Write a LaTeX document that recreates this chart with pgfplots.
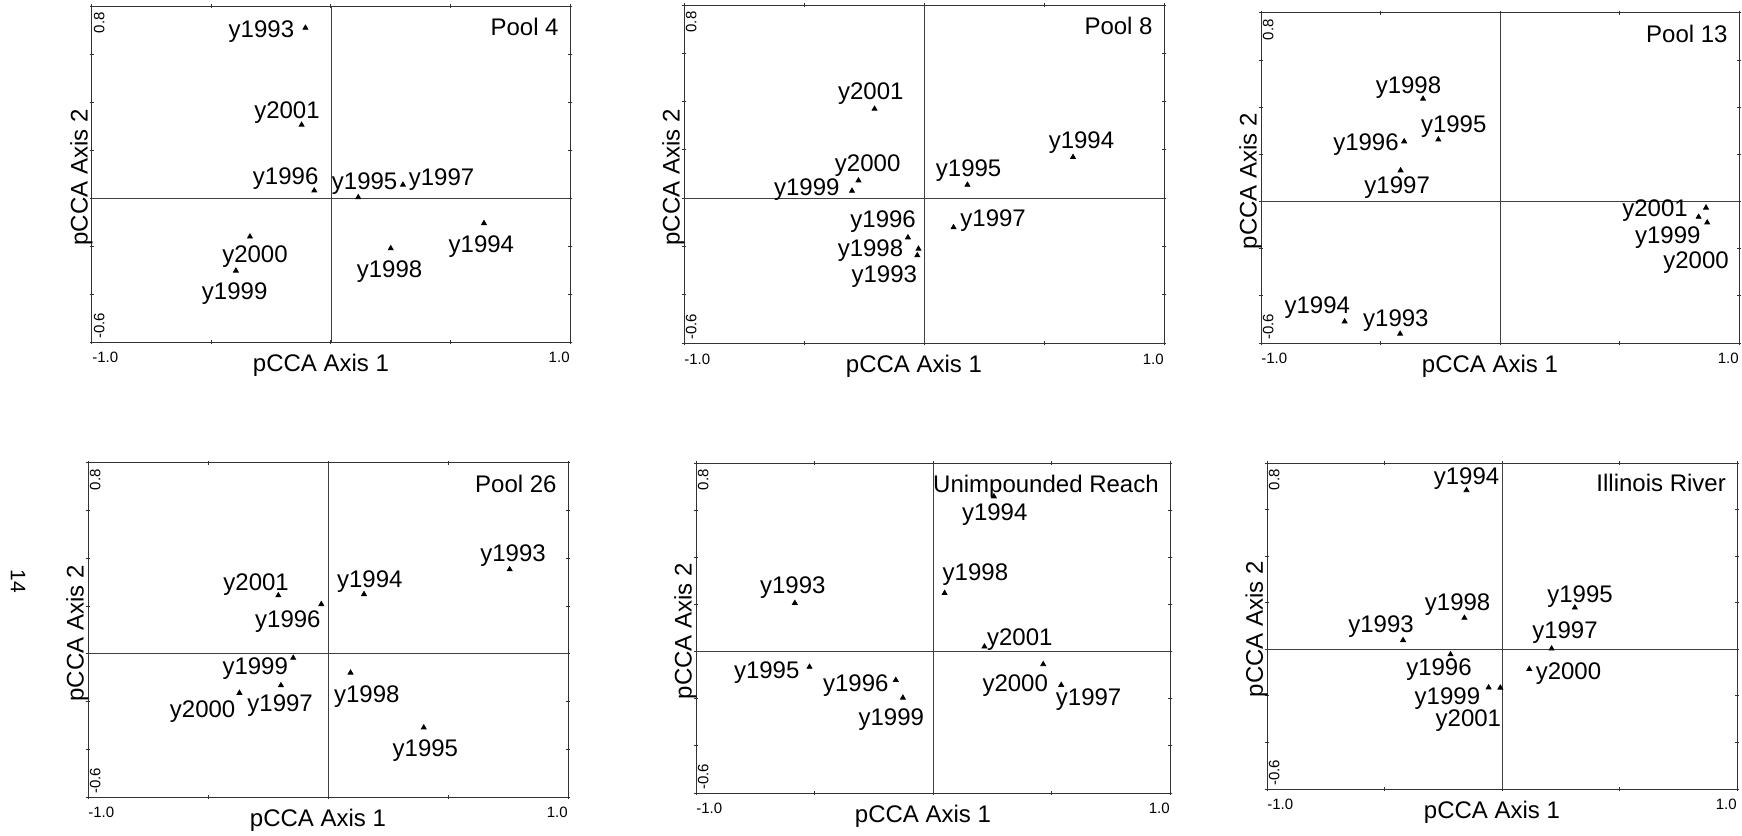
\documentclass[border=0pt]{standalone}
\usepackage{fontspec}
\setmainfont{Liberation Sans}
\usepackage{pgfplots}
\usepackage{pgfplotstable}
\pgfplotsset{compat=1.18}

\pgfplotstableread{
x y label dx dy
-0.107 0.709 y1993 -22 -1.7
-0.123 0.305 y2001 -7.3 6.2
-0.070 0.031 y1996 -14.3 5.8
0.114 0.003 y1995 3.2 7.0
0.301 0.055 y1997 19.3 2.5
0.640 -0.105 y1994 -1.3 -11.7
0.250 -0.210 y1998 -0.6 -11.7
-0.339 -0.161 y2000 2.5 -10
-0.398 -0.303 y1999 -0.6 -11.3
}\poolfour

\pgfplotstableread{
x y label dx dy
-0.206 0.370 y2001 -1.9 7.8
-0.273 0.073 y2000 4.6 7.5
-0.300 0.030 y1999 -22.6 0.5
0.181 0.055 y1995 0.6 7.2
0.621 0.170 y1994 4.2 7.0
0.123 -0.121 y1997 19.8 3.3
-0.067 -0.163 y1996 -12.4 8.0
-0.023 -0.210 y1998 -24 -0.8
-0.028 -0.237 y1993 -16.5 -10.5
}\pooleight

\pgfplotstableread{
x y label dx dy
-0.322 0.436 y1998 -7.3 5.8
-0.258 0.263 y1995 7.7 6.6
-0.401 0.255 y1996 -19.1 -1.7
-0.416 0.132 y1997 -1.7 -8.6
0.862 -0.026 y2001 -25.5 -1.7
0.831 -0.065 y1999 -15.4 -10.3
0.867 -0.089 y2000 -5.6 -20
-0.650 -0.509 y1994 -13.7 7.1
-0.418 -0.561 y1993 -2.1 6.6
}\poolthirteen

\pgfplotstableread{
x y label dx dy
0.757 0.354 y1993 1.7 7.0
-0.207 0.245 y2001 -11.1 5.5
0.150 0.250 y1994 2.9 6.2
-0.028 0.208 y1996 -16.7 -8.8
-0.145 -0.017 y1999 -19 -5.3
-0.196 -0.132 y1997 -0.4 -10
-0.369 -0.164 y2000 -18.4 -9.5
0.094 -0.079 y1998 8.1 -12.2
0.399 -0.309 y1995 0.8 -11.3
}\pooltwentysix

\pgfplotstableread{
x y label dx dy
0.257 0.658 y1994 0.4 -9
0.049 0.248 y1998 15.4 9.5
-0.583 0.206 y1993 -1 7.5
0.217 0.021 y2001 17.7 3.7
0.465 -0.054 y2000 -14 -10.9
0.541 -0.142 y1997 13.7 -7.2
-0.521 -0.065 y1995 -21.4 -2.8
-0.157 -0.121 y1996 -20 -3
-0.127 -0.196 y1999 -5.8 -10.9
}\unimpounded

\pgfplotstableread{
x y label dx dy
-0.151 0.683 y1994 0 5.8
-0.160 0.135 y1998 -3.4 6.8
-0.421 0.039 y1993 -11 6.7
0.310 0.179 y1995 2.6 5.3
0.211 0.003 y1997 6.7 8.0
0.116 -0.085 y2000 19.6 -2.2
-0.219 -0.022 y1996 -5.8 -7.8
-0.057 -0.164 y1999 -20.6 -5.5
-0.007 -0.165 y2001 -16 -16.5
}\illinois

\pgfplotsset{
  pcca/.style={
    scale only axis,
    xmin=-1, xmax=1, ymin=-0.6, ymax=0.8,
    xtick={-1,-0.5,0,0.5,1},
    ytick={-0.6,-0.4,-0.2,0,0.2,0.4,0.6,0.8},
    xticklabels={}, yticklabels={},
    tick align=center, major tick length=2.4pt,
    tick style={black!80, line width=0.5pt},
    axis line style={black!80, line width=0.5pt},
    xlabel={pCCA Axis 1}, ylabel={pCCA Axis 2},
    label style={font=\fontsize{12}{14}\selectfont, inner sep=0pt},
    xlabel style={at={(rel axis cs:0.5,0)}, anchor=north, yshift=-6pt, xshift=-5pt},
    ylabel style={at={(rel axis cs:-0.009,0.49)}, anchor=base},
    clip=false,
  },
  yrs/.style={only marks, mark=triangle*, mark size=1.4pt, black,
    nodes near coords, point meta=explicit symbolic,
    visualization depends on={\thisrow{dx}\as\labdx},
    visualization depends on={\thisrow{dy}\as\labdy},
    every node near coord/.append style={anchor=center, xshift=\labdx pt, yshift=\labdy pt,
      font=\fontsize{12}{14}\selectfont, inner sep=0pt, text=black}},
}

\newcommand{\panelextras}[1]{%
  \draw[black!75, line width=0.45pt] (axis cs:0,-0.6) -- (axis cs:0,0.8);
  \draw[black!75, line width=0.45pt] (axis cs:-1,0) -- (axis cs:1,0);
  \node[anchor=north west, inner sep=0pt, font=\fontsize{7.5}{9}\selectfont] at (rel axis cs:0,-0.03) {-1.0};
  \node[anchor=north east, inner sep=0pt, font=\fontsize{7.5}{9}\selectfont] at (rel axis cs:1,-0.03) {1.0};
  \node[rotate=90, anchor=north east, inner sep=0pt, font=\fontsize{7.5}{9}\selectfont] at (rel axis cs:0.003,0.982) {0.8};
  \node[rotate=90, anchor=north west, inner sep=0pt, font=\fontsize{7.5}{9}\selectfont] at (rel axis cs:0.003,0.009) {-0.6};
  \node[anchor=north east, inner sep=0pt, font=\fontsize{12}{14}\selectfont] at (rel axis cs:0.977,0.966) {#1};
}

\begin{document}
\begin{tikzpicture}
\path[use as bounding box] (0,0) rectangle (871pt,-418pt);

\node[rotate=-90, font=\fontsize{10.5}{12}\selectfont, inner sep=0pt] at (9pt,-290.5pt) {14};

\begin{axis}[pcca, at={(46pt,-171pt)}, anchor=south west, width=239pt, height=168pt]
\addplot[yrs] table[x=x,y=y,meta=label]{\poolfour};
\panelextras{Pool 4}
\end{axis}

\begin{axis}[pcca, at={(342pt,-171.5pt)}, anchor=south west, width=240pt, height=169pt]
\addplot[yrs] table[x=x,y=y,meta=label]{\pooleight};
\panelextras{Pool 8}
\end{axis}

\begin{axis}[pcca, at={(630.5pt,-171.5pt)}, anchor=south west, width=239pt, height=165pt]
\addplot[yrs] table[x=x,y=y,meta=label]{\poolthirteen};
\panelextras{Pool 13}
\end{axis}

\begin{axis}[pcca, at={(44pt,-398.5pt)}, anchor=south west, width=240pt, height=167pt]
\addplot[yrs] table[x=x,y=y,meta=label]{\pooltwentysix};
\panelextras{Pool 26}
\end{axis}

\begin{axis}[pcca, at={(348pt,-396.5pt)}, anchor=south west, width=237pt, height=165pt]
\addplot[yrs] table[x=x,y=y,meta=label]{\unimpounded};
\panelextras{Unimpounded Reach}
\end{axis}

\begin{axis}[pcca, at={(633.5pt,-394.5pt)}, anchor=south west, width=235pt, height=163pt]
\addplot[yrs] table[x=x,y=y,meta=label]{\illinois};
\panelextras{Illinois River}
\end{axis}

\end{tikzpicture}
\end{document}
